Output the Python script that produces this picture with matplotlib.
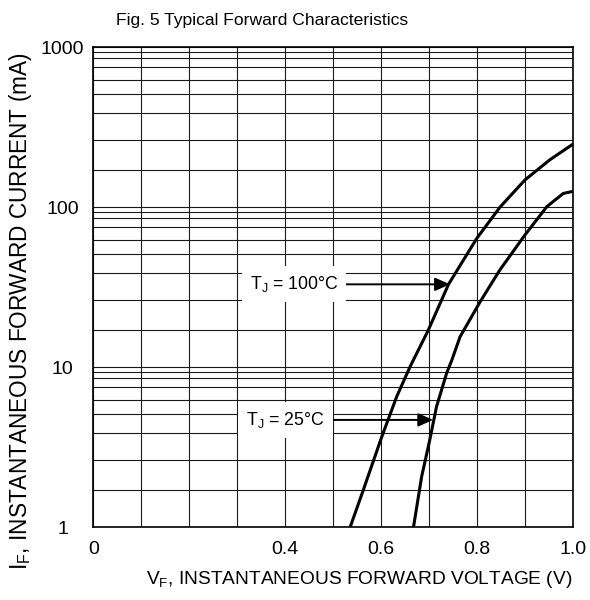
import numpy as np
import matplotlib
matplotlib.use("Agg")
import matplotlib.pyplot as plt

plt.rcParams['font.family'] = ['Liberation Sans', 'DejaVu Sans']
plt.rcParams['mathtext.fontset'] = 'custom'
plt.rcParams['mathtext.rm'] = 'Liberation Sans'

# forward voltage (V) vs forward current (mA)
vf_100 = [0.535, 0.5625, 0.601, 0.632, 0.660, 0.698, 0.740, 0.799, 0.847, 0.899, 0.951, 1.0]
if_100 = [1.0, 1.71, 3.68, 6.55, 10.1, 17.1, 33.0, 64.0, 100.0, 148.0, 198.0, 249.0]

vf_25 = [0.667, 0.684, 0.701, 0.715, 0.736, 0.747, 0.764, 0.806, 0.847, 0.899, 0.945, 0.979, 1.0]
if_25 = [1.0, 2.07, 3.52, 5.67, 9.17, 11.1, 15.5, 25.7, 40.6, 67.0, 101.0, 122.0, 126.0]

x_ticks = [0, 0.4, 0.6, 0.8, 1.0]
x_tick_labels = ['0', '0.4', '0.6', '0.8', '1.0']
y_ticks = [1, 10, 100, 1000]
y_tick_labels = ['1', '10', '100', '1000']

labels = ['T$_\\mathregular{J}$ = 100°C', 'T$_\\mathregular{J}$ = 25°C']
label_pos = [(0.418, 33.0), (0.401, 4.69)]
arrow_tips = [(0.743, 33.0), (0.708, 4.69)]

# the printed grid is not evenly log spaced, these are where its lines sit in each decade
grid_frac = [1.72, 2.65, 3.88, 5.10, 6.29, 7.51, 8.59, 9.31]

fig = plt.figure(figsize=(5.9, 6.0), dpi=100)
ax = fig.add_axes([93.3 / 590, 1 - 527.3 / 600, 480 / 590, 480 / 600])

ax.set_xlim(0, 1.0)
ax.set_yscale('log')
ax.set_ylim(1, 1000)

ax.set_xticks(x_ticks)
ax.set_xticklabels(x_tick_labels)
ax.set_xticks(np.arange(0.1, 1.0, 0.1), minor=True)
ax.set_yticks(y_ticks)
ax.set_yticklabels(y_tick_labels)
minor_y = [d * f for d in [1, 10, 100] for f in grid_frac]
ax.set_yticks(minor_y, minor=True)
ax.yaxis.set_minor_formatter(matplotlib.ticker.NullFormatter())

ax.grid(True, which='both', color='#1a1a1a', lw=0.8)
ax.set_axisbelow(True)
ax.tick_params(which='both', length=0)
ax.tick_params(axis='x', labelsize=14, pad=10)
ax.tick_params(axis='y', labelsize=14, pad=22)
for lbl in ax.get_yticklabels():
    lbl.set_ha('center')

for s in ax.spines.values():
    s.set_linewidth(1.2)
    s.set_color('black')

ax.plot(vf_100, if_100, color='black', lw=2.2, solid_capstyle='butt')
ax.plot(vf_25, if_25, color='black', lw=2.2, solid_capstyle='butt')

for txt, pos, tip in zip(labels, label_pos, arrow_tips):
    ax.annotate(txt, xy=tip, xytext=pos, ha='center', va='center', fontsize=12.8,
                bbox=dict(boxstyle='square,pad=0.45', fc='white', ec='none'),
                arrowprops=dict(arrowstyle='-|>,head_length=0.45,head_width=0.2',
                                color='black', lw=1.4, mutation_scale=20,
                                shrinkA=0, shrinkB=0))

ax.set_xlabel('V$_\\mathregular{F}$, INSTANTANEOUS FORWARD VOLTAGE (V)', fontsize=13.8)
ax.xaxis.set_label_coords(0.553, -0.087)
ax.set_ylabel('I$_\\mathregular{F}$, INSTANTANEOUS FORWARD CURRENT (mA)', fontsize=16.3)
ax.yaxis.set_label_coords(-0.123, 0.45)

fig.text(0.444, 1 - 20.5 / 600, 'Fig. 5 Typical Forward Characteristics',
         ha='center', va='center', fontsize=12.6)

fig.savefig('out.png', dpi=100)
